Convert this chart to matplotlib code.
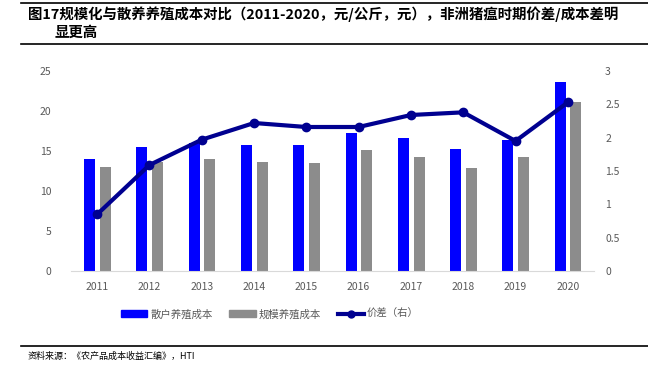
import matplotlib
matplotlib.use("Agg")
import matplotlib.pyplot as plt
import numpy as np
from matplotlib.lines import Line2D
from matplotlib.patches import Patch

plt.rcParams['font.family'] = ['Noto Sans CJK SC', 'DejaVu Sans']

years = ['2011', '2012', '2013', '2014', '2015', '2016', '2017', '2018', '2019', '2020']
retail_cost = [14.0, 15.45, 15.95, 15.75, 15.75, 17.2, 16.6, 15.25, 16.4, 23.65]
scale_cost = [13.0, 13.6, 14.0, 13.65, 13.5, 15.1, 14.3, 12.9, 14.3, 21.1]
spread = [0.85, 1.59, 1.97, 2.22, 2.16, 2.16, 2.34, 2.38, 1.95, 2.53]

left_ticks = [0, 5, 10, 15, 20, 25]
right_ticks = [0, 0.5, 1, 1.5, 2, 2.5, 3]
right_labels = ['0', '0.5', '1', '1.5', '2', '2.5', '3']

W, H = 648, 369
fig = plt.figure(figsize=(W / 100, H / 100), dpi=100)

ax = fig.add_axes([71 / W, 1 - 271 / H, (594 - 71) / W, (271 - 71) / H])
x = np.arange(len(years))
bw = 0.21
ax.bar(x - 0.145, retail_cost, width=bw, color='#0000FF', zorder=2)
ax.bar(x + 0.155, scale_cost, width=bw, color='#8C8C8C', zorder=2)
ax.set_xlim(-0.5, len(years) - 0.5)
ax.set_ylim(0, 25)
ax.set_yticks(left_ticks)
ax.set_xticks(x)
ax.set_xticklabels(years)
for s in ['top', 'right', 'left']:
    ax.spines[s].set_visible(False)
ax.spines['bottom'].set_color('#D9D9D9')
ax.tick_params(axis='both', length=0, labelsize=7.5, colors='#595959', pad=8)
ax.tick_params(axis='y', pad=14)

ax2 = ax.twinx()
ax2.plot(x, spread, color='#000090', lw=3, marker='o', ms=6, zorder=3)
ax2.set_ylim(0, 3)
ax2.set_yticks(right_ticks)
ax2.set_yticklabels(right_labels)
for s in ['top', 'right', 'left', 'bottom']:
    ax2.spines[s].set_visible(False)
ax2.tick_params(axis='y', length=0, labelsize=7.5, colors='#595959', pad=8)

# title
fig.text(28 / W, 1 - 14 / H, '图17规模化与散养养殖成本对比（2011-2020，元/公斤，元），非洲猪瘟时期价差/成本差明',
         fontsize=10.4, fontweight='bold', ha='left', va='center', color='#000000')
fig.text(55 / W, 1 - 33 / H, '显更高', fontsize=10.4, fontweight='bold', ha='left', va='center', color='#000000')
fig.add_artist(Line2D([21 / W, 1], [1 - 3 / H, 1 - 3 / H], color='black', lw=1.2, transform=fig.transFigure))
fig.add_artist(Line2D([21 / W, 1], [1 - 44 / H, 1 - 44 / H], color='black', lw=1.2, transform=fig.transFigure))

# legend
handles = [Patch(color='#0000FF'), Patch(color='#8C8C8C'),
           Line2D([], [], color='#000090', lw=3, marker='o', ms=5)]
fig.legend(handles, ['散户养殖成本', '规模养殖成本', '价差（右）'], loc='center',
           bbox_to_anchor=(270 / W, 1 - 314 / H), ncol=3, frameon=False, fontsize=7.5,
           handlelength=2.5, handleheight=0.6, columnspacing=1.6, handletextpad=0.3,
           labelcolor='#595959')

# footer
fig.add_artist(Line2D([21 / W, 1], [1 - 346 / H, 1 - 346 / H], color='black', lw=1.2, transform=fig.transFigure))
fig.text(28 / W, 1 - 356 / H, '资料来源：《农产品成本收益汇编》，HTI', fontsize=6.5, ha='left', va='center', color='#000000')

fig.savefig('out.png', dpi=100, facecolor='white')
